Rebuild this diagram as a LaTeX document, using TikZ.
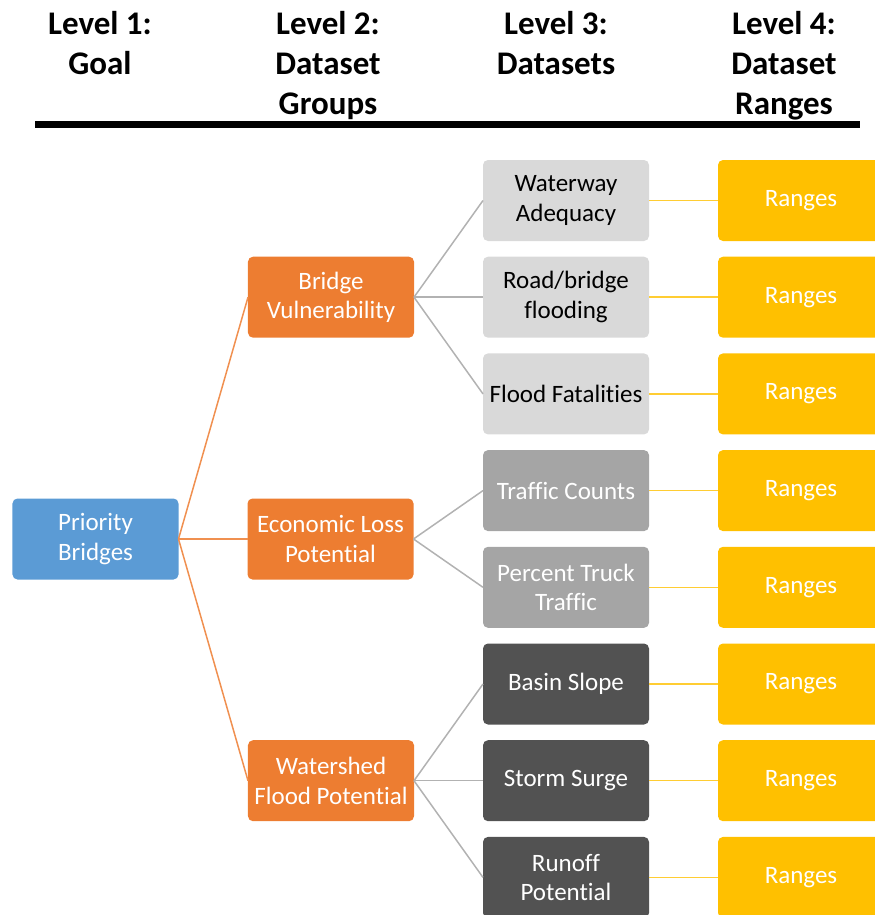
\documentclass[tikz,border=0pt]{standalone}
\usepackage{fontspec}
\setmainfont{Carlito}[Ligatures={NoCommon}]
\usetikzlibrary{positioning}

\definecolor{goalblue}{HTML}{5B9BD5}
\definecolor{grouporange}{HTML}{ED7D31}
\definecolor{setlight}{HTML}{D9D9D9}
\definecolor{setmid}{HTML}{A5A5A5}
\definecolor{setdark}{HTML}{525252}
\definecolor{rangeyellow}{HTML}{FFC000}

\begin{document}
\begin{tikzpicture}[x=1bp, y=-1bp, node distance=15.7bp and 69bp,
  every node/.style={rectangle, rounded corners=5bp, minimum width=166bp,
    minimum height=81bp, inner sep=2bp, outer sep=0pt, align=center,
    font=\fontsize{25bp}{29.5bp}\selectfont},
  goal/.style={fill=goalblue, text=white},
  group/.style={fill=grouporange, text=white},
  light/.style={fill=setlight, text=black},
  mid/.style={fill=setmid, text=white},
  dark/.style={fill=setdark, text=white},
  ranges/.style={fill=rangeyellow, text=white},
  heading/.style={minimum width=0pt, minimum height=0pt, inner sep=0pt,
    anchor=north, font=\fontsize{33bp}{40bp}\selectfont\bfseries},
  goalline/.style={draw=grouporange!85, line width=1.5bp},
  groupline/.style={draw=setmid!85, line width=1.5bp},
  rangeline/.style={draw=rangeyellow!80, line width=1.5bp}]
\useasboundingbox (0,0) rectangle (875,915);

% column headings
\node[heading] (lvl1) at (100,11) {Level 1:\\Goal};
\node[heading] (lvl2) at (328,11) {Level 2:\\Dataset\\Groups};
\node[heading] (lvl3) at (556,11) {Level 3:\\Datasets};
\node[heading] (lvl4) at (784,11) {Level 4:\\Dataset\\Ranges};
\draw[line width=7bp] (35,124.5) -- (860,124.5);

% datasets
\node[light] (waterway) at (566,200.5) {Waterway\\Adequacy};
\node[light, below=of waterway] (roadflood) {Road/bridge\\flooding};
\node[light, below=of roadflood] (fatal) {Flood Fatalities};
\node[mid, below=of fatal] (traffic) {Traffic Counts};
\node[mid, below=of traffic] (truck) {Percent Truck\\Traffic};
\node[dark, below=of truck] (slope) {Basin Slope};
\node[dark, below=of slope] (surge) {Storm Surge};
\node[dark, below=of surge] (runoff) {Runoff\\Potential};

% dataset groups and goal
\node[group, left=of roadflood] (vuln) {Bridge\\Vulnerability};
\node[group] (econ) at (330.5,539) {Economic Loss\\Potential};
\node[group, left=of surge] (shed) {Watershed\\Flood Potential};
\node[goal, left=of econ] (goal) {Priority\\Bridges};

\draw[goalline] (goal.east) -- (vuln.west);
\draw[goalline] (goal.east) -- (econ.west);
\draw[goalline] (goal.east) -- (shed.west);

\draw[groupline] (vuln.east) -- (waterway.west);
\draw[groupline] (vuln.east) -- (roadflood.west);
\draw[groupline] (vuln.east) -- (fatal.west);
\draw[groupline] (econ.east) -- (traffic.west);
\draw[groupline] (econ.east) -- (truck.west);
\draw[groupline] (shed.east) -- (slope.west);
\draw[groupline] (shed.east) -- (surge.west);
\draw[groupline] (shed.east) -- (runoff.west);

% ranges
\foreach \n in {waterway,roadflood,fatal,traffic,truck,slope,surge,runoff} {
  \node[ranges, right=of \n] (r\n) {Ranges};
  \draw[rangeline] (\n) -- (r\n);
}
\end{tikzpicture}
\end{document}
